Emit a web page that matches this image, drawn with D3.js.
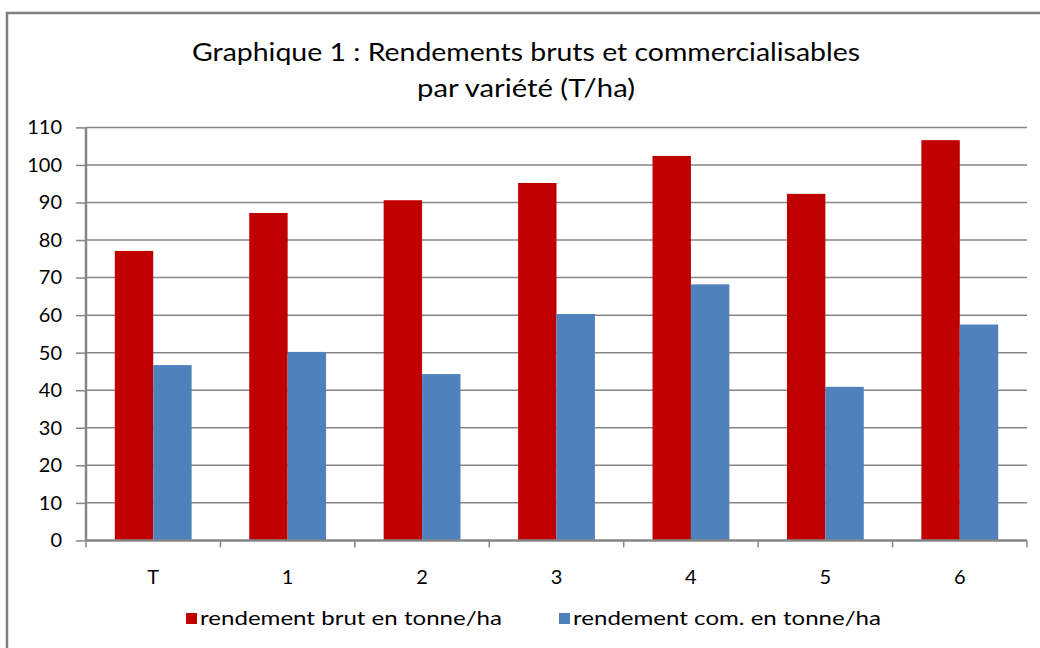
<!DOCTYPE html>
<html>
<head>
<meta charset="utf-8">
<title>Rendements par variété</title>
<script src="https://cdn.jsdelivr.net/npm/d3@7"></script>
<style>
  body { margin: 0; background: #fff; }
  text { font-family: Lato, "Open Sans", sans-serif; fill: #000; }
</style>
</head>
<body>
<div id="chart"></div>
<script>
// varieties on the x axis
var varietes = ["T", "1", "2", "3", "4", "5", "6"];
// rendement brut (T/ha)
var brut = [77.1, 87.2, 90.6, 95.2, 102.4, 92.3, 106.6];
// rendement commercialisable (T/ha)
var com = [46.7, 50.2, 44.3, 60.3, 68.2, 40.9, 57.5];
var seriesNames = ["rendement brut en tonne/ha", "rendement com. en tonne/ha"];
var seriesColors = ["#c00000", "#4f81bd"];
var yTicks = [0, 10, 20, 30, 40, 50, 60, 70, 80, 90, 100, 110];

var W = 1040, H = 648;
var svg = d3.select("#chart").append("svg").attr("width", W).attr("height", H);

// outer chart frame
svg.append("rect").attr("x", 7).attr("y", 13).attr("width", 1050).attr("height", 660)
  .attr("fill", "none").attr("stroke", "#808080").attr("stroke-width", 2.5);

// title, two lines
var title = svg.append("g");
title.append("text").attr("x", 526).attr("y", 61).attr("text-anchor", "middle")
  .attr("font-size", 25).attr("textLength", 668).attr("lengthAdjust", "spacingAndGlyphs")
  .text("Graphique 1 : Rendements bruts et commercialisables");
title.append("text").attr("x", 526).attr("y", 97).attr("text-anchor", "middle")
  .attr("font-size", 25).attr("textLength", 218).attr("lengthAdjust", "spacingAndGlyphs")
  .text("par variété (T/ha)");

var plotL = 86, plotR = 1027, plotT = 127.4, plotB = 540.4;

var x = d3.scaleBand().domain(varietes).range([plotL, plotR]).paddingInner(0).paddingOuter(0);
var y = d3.scaleLinear().domain([0, 110]).range([plotB, plotT]);
// Excel gap width 150% -> each bar is band / 3.5
var barW = x.bandwidth() / 3.5;

// gridlines
svg.append("g").selectAll("line").data(yTicks.slice(1)).join("line")
  .attr("x1", plotL).attr("x2", plotR)
  .attr("y1", function(d) { return y(d); }).attr("y2", function(d) { return y(d); })
  .attr("stroke", "#868686").attr("stroke-width", 1.5);

// bars
var groups = svg.append("g").selectAll("g").data(varietes).join("g")
  .attr("transform", function(d) { return "translate(" + x(d) + ",0)"; });
groups.append("rect")
  .attr("x", barW * 0.75).attr("width", barW)
  .attr("y", function(d, i) { return y(brut[i]); })
  .attr("height", function(d, i) { return y(0) - y(brut[i]); })
  .attr("fill", seriesColors[0]);
groups.append("rect")
  .attr("x", barW * 1.75).attr("width", barW)
  .attr("y", function(d, i) { return y(com[i]); })
  .attr("height", function(d, i) { return y(0) - y(com[i]); })
  .attr("fill", seriesColors[1]);

// y axis
var yAxis = svg.append("g").attr("transform", "translate(" + plotL + ",0)")
  .call(d3.axisLeft(y).tickValues(yTicks).tickSize(10).tickPadding(14));
yAxis.selectAll("text").attr("font-size", 20).attr("fill", "#000");
yAxis.selectAll("line").attr("stroke", "#868686").attr("stroke-width", 1.5);
yAxis.select(".domain").attr("stroke", "#868686").attr("stroke-width", 2.5).attr("d", "M0," + plotT + "V" + plotB);

// x axis: ticks on category boundaries
var xAxis = svg.append("g").attr("transform", "translate(0," + plotB + ")");
xAxis.append("line").attr("x1", plotL).attr("x2", plotR).attr("stroke", "#868686").attr("stroke-width", 2.5);
xAxis.selectAll("line.tk").data(varietes.concat(["end"])).join("line").attr("class", "tk")
  .attr("x1", function(d, i) { return plotL + i * x.step(); })
  .attr("x2", function(d, i) { return plotL + i * x.step(); })
  .attr("y1", 0).attr("y2", 7).attr("stroke", "#868686").attr("stroke-width", 1.5);
xAxis.selectAll("text").data(varietes).join("text")
  .attr("x", function(d) { return x(d) + x.bandwidth() / 2; })
  .attr("y", 44).attr("text-anchor", "middle").attr("font-size", 20)
  .text(function(d) { return d; });

// legend
var legX = [186, 559];
var leg = svg.append("g").selectAll("g").data(seriesNames).join("g")
  .attr("transform", function(d, i) { return "translate(" + legX[i] + ",613)"; });
leg.append("rect").attr("width", 11).attr("height", 11)
  .attr("fill", function(d, i) { return seriesColors[i]; });
leg.append("text").attr("x", 14).attr("y", 12).attr("font-size", 20)
  .attr("textLength", function(d, i) { return [302, 308][i]; })
  .attr("lengthAdjust", "spacingAndGlyphs")
  .text(function(d) { return d; });
</script>
</body>
</html>
